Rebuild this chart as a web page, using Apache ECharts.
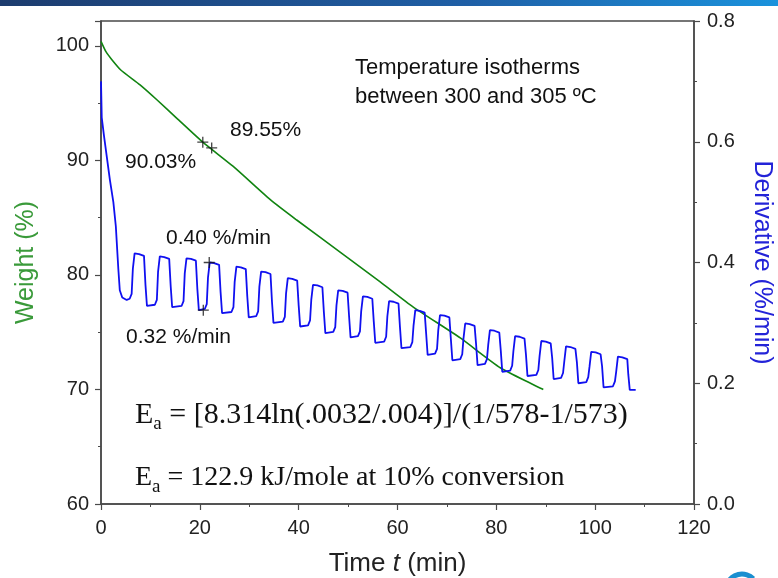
<!DOCTYPE html>
<html>
<head>
<meta charset="utf-8">
<style>
    html, body { margin: 0; padding: 0; overflow: hidden; background: #fff; }
</style>
</head>
<body>
<div id="chart" style="width:778px; height:578px;"></div>
<script src="https://cdn.jsdelivr.net/npm/echarts@6/dist/echarts.min.js"></script>
<script>
    // weight curve (left axis), [time min, weight %]
    var weightData = [
        [0, 100.4], [1, 99.5], [2.2, 98.8], [4, 97.9], [7.9, 96.6], [11.3, 95.3],
        [15.3, 93.7], [20.6, 91.6], [26.7, 89.5], [34.2, 86.6], [39.6, 84.8],
        [49.0, 81.8], [56.5, 79.4], [63.2, 77.2], [72.7, 74.5], [80.8, 71.9], [89.5, 70.0]
    ];

    // derivative curve (right axis), [time min, %/min]
    var derivData = [
        [0, 0.70], [0.15, 0.64], [0.6, 0.61], [1.8, 0.537], [2.5, 0.50], [3.0, 0.46],
        [3.5, 0.39], [3.8, 0.354], [4.3, 0.342], [5.2, 0.338], [5.8, 0.340],
        [6.2, .348], [6.45, .390], [6.8, .415], [7.7, .414], [8.7, .411], [9.0, .363], [9.3, .328], [10.9, .330],
        [11.3, .338], [11.55, .385], [11.9, .410], [12.8, .409], [13.8, .406], [14.1, .361], [14.4, .326], [16.3, .328],
        [16.7, .336], [16.95, .382], [17.3, .407], [18.2, .406], [19.2, .403], [19.5, .356], [19.8, .321], [21.0, .323],
        [21.4, .331], [21.65, .375], [22.0, .400], [22.9, .399], [23.9, .396], [24.2, .351], [24.5, .316], [26.4, .318],
        [26.8, .326], [27.05, .368], [27.4, .393], [28.3, .392], [29.3, .389], [29.6, .344], [29.9, .309], [31.4, .311],
        [31.8, .319], [32.05, .360], [32.4, .385], [33.3, .384], [34.3, .381], [34.6, .335], [34.9, .300], [36.8, .302],
        [37.2, .310], [37.45, .349], [37.8, .374], [38.7, .373], [39.7, .370], [40.0, .329], [40.3, .294], [41.9, .296],
        [42.3, .304], [42.55, .338], [42.9, .363], [43.8, .362], [44.8, .359], [45.1, .318], [45.4, .283], [47.0, .285],
        [47.4, .293], [47.65, .329], [48.0, .354], [48.9, .353], [49.9, .350], [50.2, .311], [50.5, .276], [52.0, .278],
        [52.4, .286], [52.65, .319], [53.0, .344], [53.9, .343], [54.9, .340], [55.2, .302], [55.5, .267], [57.3, .269],
        [57.7, .277], [57.95, .311], [58.3, .336], [59.2, .335], [60.2, .332], [60.5, .293], [60.8, .258], [62.6, .260],
        [63.0, .268], [63.25, .296], [63.6, .321], [64.5, .320], [65.5, .317], [65.8, .282], [66.1, .247], [67.6, .249],
        [68.0, .257], [68.25, .288], [68.6, .313], [69.5, .312], [70.5, .309], [70.8, .273], [71.1, .238], [72.7, .240],
        [73.1, .248], [73.35, .274], [73.7, .299], [74.6, .298], [75.6, .295], [75.9, .265], [76.2, .230], [77.7, .232],
        [78.1, .240], [78.35, .263], [78.7, .288], [79.6, .287], [80.6, .284], [80.9, .254], [81.2, .219], [82.8, .221],
        [83.2, .229], [83.45, .253], [83.8, .278], [84.7, .277], [85.7, .274], [86.0, .247], [86.3, .212], [88.1, .214],
        [88.5, .222], [88.75, .245], [89.1, .270], [90.0, .269], [91.0, .266], [91.3, .242], [91.6, .207], [93.1, .209],
        [93.5, .217], [93.75, .236], [94.1, .261], [95.0, .260], [96.0, .257], [96.3, .235], [96.6, .200], [98.2, .202],
        [98.6, .210], [98.85, .227], [99.2, .252], [100.1, .251], [101.1, .248], [101.4, .228], [101.7, .193], [103.6, .195],
        [104.0, .203], [104.25, .219], [104.6, .244], [105.5, .243], [106.5, .240], [106.7, .215], [107.0, .189], [108.2, .189]
    ];

    // "+" cursor marks
    var weightMarks = [[20.6, 91.6], [22.4, 91.1]];
    var derivMarks = [[20.7, 0.321], [21.9, 0.400]];

    var xTicks = [0, 120, 20];       // min, max, interval
    var weightTicks = [60, 102.18, 10];
    var derivTicks = [0, 0.8, 0.2];

    var chart = echarts.init(document.getElementById('chart'), null, {renderer: 'canvas'});

    var axisGray = '#4a4a4a';
    var labelStyle = {color: '#222', fontSize: 20, fontFamily: 'Liberation Sans'};
    var plus = 'path://M0,5 L10,5 M5,0 L5,10';

    function valueAxis(t, extra) {
        var a = {
            type: 'value', min: t[0], max: t[1], interval: t[2],
            splitLine: {show: false},
            axisLine: {show: true, lineStyle: {color: axisGray, width: 1.5}},
            axisTick: {show: true, inside: false, length: 6, lineStyle: {color: axisGray, width: 1.2}},
            minorTick: {show: true, splitNumber: 2, length: 3, lineStyle: {color: axisGray}},
            axisLabel: Object.assign({margin: 12}, labelStyle)
        };
        return Object.assign(a, extra);
    }

    var option = {
        animation: false,
        backgroundColor: '#fff',
        grid: {
            left: 101, right: 84, top: 21, bottom: 74, outerBoundsMode: 'none', containLabel: false,
            show: true, borderColor: axisGray, borderWidth: 1.5
        },
        xAxis: valueAxis(xTicks, {
            name: 'Time {i|t} (min)', nameLocation: 'middle', nameGap: 47,
            nameTextStyle: {color: '#222', fontSize: 26, fontFamily: 'Liberation Sans',
                rich: {i: {fontStyle: 'italic', fontSize: 26, fontFamily: 'Liberation Sans', color: '#222'}}},
            axisLabel: Object.assign({margin: 14}, labelStyle)
        }),
        yAxis: [
            valueAxis(weightTicks, {
                position: 'left',
                name: 'Weight (%)', nameLocation: 'middle', nameGap: 62, nameRotate: 90,
                nameTextStyle: {color: '#3a9a3a', fontSize: 25, fontFamily: 'Liberation Sans'},
                axisLabel: Object.assign({margin: 12, showMaxLabel: false}, labelStyle)
            }),
            valueAxis(derivTicks, {
                position: 'right',
                name: 'Derivative (%/min)', nameLocation: 'middle', nameGap: 55, nameRotate: -90,
                nameTextStyle: {color: '#2323d8', fontSize: 25, fontFamily: 'Liberation Sans'},
                axisLabel: Object.assign({margin: 13, formatter: function (v) { return v.toFixed(1); }}, labelStyle)
            })
        ],
        series: [
            {
                name: 'Weight', type: 'line', yAxisIndex: 0, data: weightData,
                showSymbol: false, smooth: 0.2,
                lineStyle: {color: '#118411', width: 1.6}
            },
            {
                name: 'Derivative', type: 'line', yAxisIndex: 1, data: derivData,
                showSymbol: false,
                lineStyle: {color: '#1010f0', width: 1.8}
            },
            {
                type: 'scatter', yAxisIndex: 0, data: weightMarks, symbol: plus, symbolSize: 11,
                itemStyle: {color: 'none', borderColor: '#111', borderWidth: 1.3}, z: 5
            },
            {
                type: 'scatter', yAxisIndex: 1, data: derivMarks, symbol: plus, symbolSize: 11,
                itemStyle: {color: 'none', borderColor: '#111', borderWidth: 1.3}, z: 5
            }
        ],
        graphic: [
            {
                type: 'rect', left: 0, top: 0, z: 10,
                shape: {width: 778, height: 6},
                style: {fill: new echarts.graphic.LinearGradient(0, 0, 1, 0, [
                    {offset: 0, color: '#1d3c6e'}, {offset: 0.6, color: '#1f5fa6'}, {offset: 1, color: '#1a92dc'}
                ])}
            },
            {
                type: 'arc', z: 10,
                shape: {cx: 742, cy: 590, r: 16, startAngle: Math.PI * 1.1, endAngle: Math.PI * 1.75},
                style: {stroke: '#1a8fd0', lineWidth: 5, fill: null}
            },
            {
                type: 'text', x: 355, y: 53, z: 20,
                style: {text: 'Temperature isotherms\nbetween 300 and 305 ºC', fill: '#111',
                    font: '22px "Liberation Sans"', lineHeight: 29}
            },
            {type: 'text', x: 230, y: 130, z: 20, style: {text: '89.55%', fill: '#111', font: '21px "Liberation Sans"', verticalAlign: 'middle'}},
            {type: 'text', x: 125, y: 162, z: 20, style: {text: '90.03%', fill: '#111', font: '21px "Liberation Sans"', verticalAlign: 'middle'}},
            {type: 'text', x: 166, y: 238, z: 20, style: {text: '0.40 %/min', fill: '#111', font: '21px "Liberation Sans"', verticalAlign: 'middle'}},
            {type: 'text', x: 126, y: 337, z: 20, style: {text: '0.32 %/min', fill: '#111', font: '21px "Liberation Sans"', verticalAlign: 'middle'}},
            {
                type: 'text', x: 135, y: 415, z: 20,
                style: {
                    text: '{e|E}{s|a}{e| = [8.314ln(.0032/.004)]/(1/578-1/573)}',
                    verticalAlign: 'middle',
                    rich: {
                        e: {fontSize: 30, fontFamily: 'Liberation Serif', fill: '#111', lineHeight: 40},
                        s: {fontSize: 19, fontFamily: 'Liberation Serif', fill: '#111', lineHeight: 40, padding: [18, 0, 0, 0]}
                    }
                }
            },
            {
                type: 'text', x: 135, y: 478, z: 20,
                style: {
                    text: '{e|E}{s|a}{e| = 122.9 kJ/mole at 10% conversion}',
                    verticalAlign: 'middle',
                    rich: {
                        e: {fontSize: 28, fontFamily: 'Liberation Serif', fill: '#111', lineHeight: 40},
                        s: {fontSize: 19, fontFamily: 'Liberation Serif', fill: '#111', lineHeight: 40, padding: [18, 0, 0, 0]}
                    }
                }
            }
        ]
    };

    chart.setOption(option);
</script>
</body>
</html>
